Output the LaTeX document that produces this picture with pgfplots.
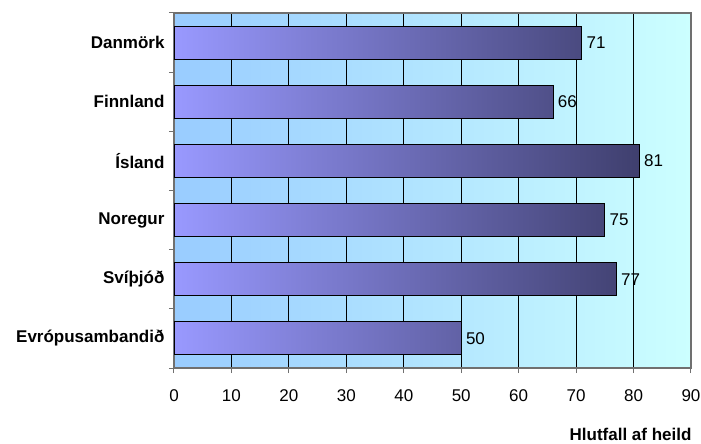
\documentclass[border=0pt]{standalone}
\usepackage{fontspec}
\setmainfont{Liberation Sans}
\usepackage{pgfplots}
\pgfplotsset{compat=1.18}
\definecolor{bgL}{HTML}{99CCFF}
\definecolor{bgR}{HTML}{CCFFFF}
\definecolor{barL}{HTML}{9999FF}
\definecolor{barR}{HTML}{3F3F6E}
\definecolor{frameC}{HTML}{707070}
\begin{document}
\begin{tikzpicture}
\path[use as bounding box] (-174pt,-76pt) rectangle (527pt,368pt);
\begin{axis}[
  scale only axis, width=517pt, height=355pt,
  at={(0pt,0pt)}, anchor=south west,
  xmin=0, xmax=90, ymin=-0.5, ymax=5.5,
  xtick={0,10,...,90},
  xmajorgrids, grid style={black, line width=0.9pt},
  ytick={0,...,5},
  yticklabels={Evrópusambandið, Svíþjóð, Noregur, Ísland, Finnland, Danmörk},
  minor ytick={-0.5,0.5,...,5.5},
  every major y tick/.style={draw=none},
  tick align=outside, xtick pos=bottom, ytick pos=left,
  major tick length=5pt, minor tick length=5pt,
  tick style={frameC, line width=1pt},
  axis line style={frameC, line width=1.5pt},
  axis background/.style={left color=bgL, right color=bgR},
  /pgf/number format/assume math mode=true,
  xticklabel style={font=\fontsize{17}{20}\selectfont, yshift=-13pt},
  yticklabel style={font=\fontsize{17}{20}\selectfont\bfseries, xshift=-1pt},
  xlabel={Hlutfall af heild},
  xlabel style={at={(rel axis cs:1,0)}, anchor=east, yshift=-66pt, xshift=4pt,
    font=\fontsize{17}{20}\selectfont\bfseries},
  point meta=x,
  nodes near coords,
  nodes near coords style={font=\fontsize{17}{20}\selectfont, black, anchor=west, xshift=1pt},
]
\addplot[xbar, bar width=33pt, draw=black, line width=0.9pt,
  left color=barL, right color=barR]
  coordinates {(71,5) (66,4) (81,3) (75,2) (77,1) (50,0)};
\end{axis}
\end{tikzpicture}
\end{document}
